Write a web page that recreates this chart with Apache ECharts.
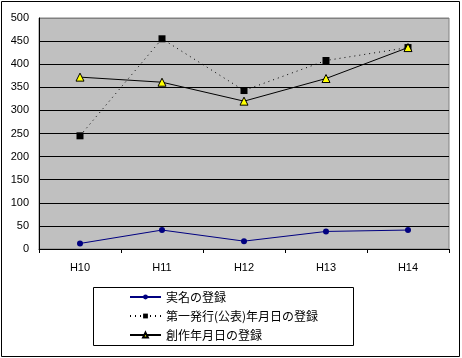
<!DOCTYPE html>
<html><head><meta charset="utf-8">
<script src="https://cdn.jsdelivr.net/npm/echarts@6/dist/echarts.min.js"></script>
<style>html,body{margin:0;padding:0;background:#fff}#c{width:462px;height:358px}</style>
</head><body><div id="c"></div>
<script>
var categories = ['H10','H11','H12','H13','H14'];
var seriesNames = ['実名の登録','第一発行(公表)年月日の登録','創作年月日の登録'];
var jitsumei = [12, 41, 17, 38, 41];
var daiichi = [245, 455, 343, 408, 436];
var sousaku = [372, 361, 320, 369, 436];
var yTicks = {min: 0, max: 500, interval: 50};

var chart = echarts.init(document.getElementById('c'));
var splitColors = [];
for (var i = 0; i < 11; i++) splitColors.push(i === 10 ? '#808080' : '#000');
chart.setOption({
  animation: false,
  backgroundColor: '#fff',
  grid: {left: 39, right: 13, top: 18, bottom: 109, show: true, backgroundColor: '#C0C0C0', borderColor: '#808080', borderWidth: 1},
  xAxis: {
    type: 'category', data: categories, boundaryGap: true,
    axisLine: {lineStyle: {color: '#000', width: 1}},
    axisTick: {show: true, length: 4, lineStyle: {color: '#000'}},
    axisLabel: {color: '#000', fontSize: 11, fontFamily: 'Liberation Sans', margin: 13}
  },
  yAxis: {
    type: 'value', min: yTicks.min, max: yTicks.max, interval: yTicks.interval,
    axisLine: {show: true, lineStyle: {color: '#000'}},
    axisTick: {show: false},
    axisLabel: {color: '#000', fontSize: 11, fontFamily: 'Liberation Sans', margin: 10},
    splitLine: {lineStyle: {color: splitColors, width: 1}}
  },
  legend: {
    orient: 'vertical', left: 129, top: 287.5, padding: 0, itemGap: 0,
    itemWidth: 31, itemHeight: 6,
    textStyle: {color: '#000', fontSize: 12, fontFamily: 'Noto Sans CJK JP', lineHeight: 19},
    data: seriesNames
  },
  series: [
    {name: seriesNames[0], type: 'line', data: jitsumei, symbol: 'circle', symbolSize: 6,
     itemStyle: {color: '#000080'}, lineStyle: {color: '#000080', width: 1}},
    {name: seriesNames[1], type: 'line', data: daiichi, symbol: 'rect', symbolSize: 7,
     itemStyle: {color: '#000'}, lineStyle: {color: '#000', width: 1, type: [1, 4]}},
    {name: seriesNames[2], type: 'line', data: sousaku, symbol: 'triangle', symbolSize: 8,
     itemStyle: {color: '#FFFF00', borderColor: '#000', borderWidth: 1}, lineStyle: {color: '#000', width: 1}}
  ],
  graphic: [
    {type: 'rect', shape: {x: 1.5, y: 1.5, width: 458, height: 355}, style: {fill: 'none', stroke: '#000', lineWidth: 1}, silent: true},
    {type: 'rect', shape: {x: 93.5, y: 287.5, width: 260, height: 58}, style: {fill: 'none', stroke: '#000', lineWidth: 1}, silent: true}
  ]
});
</script></body></html>
